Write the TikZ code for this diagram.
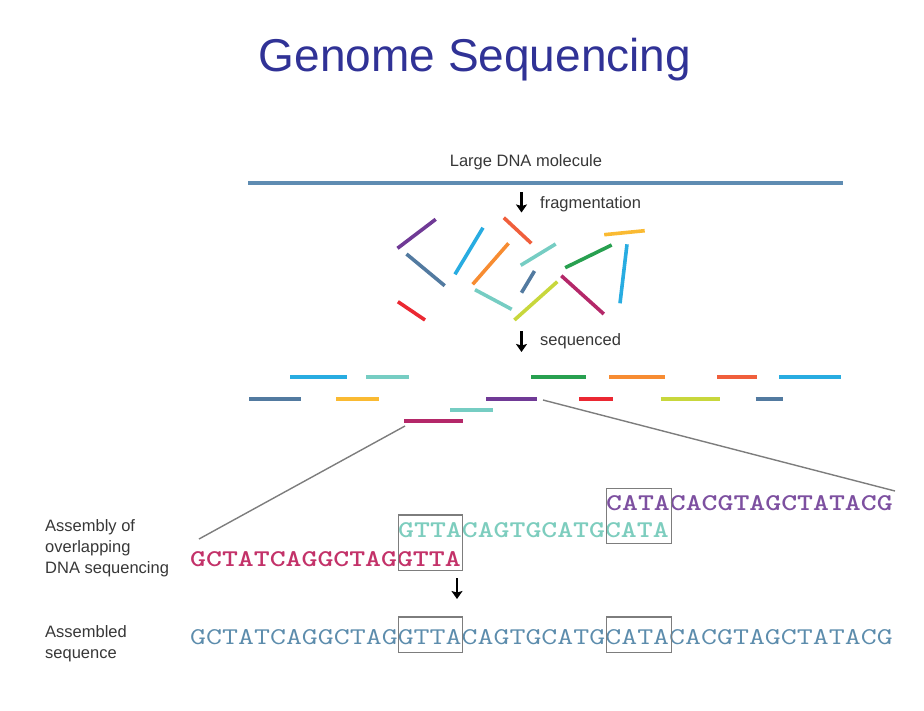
\documentclass[tikz,border=0pt]{standalone}
\usepackage{fontspec}
\usepackage{graphicx}
\setmainfont{Liberation Sans}
\usetikzlibrary{arrows.meta}
\definecolor{titleblue}{RGB}{48,50,150}
\definecolor{labelgray}{RGB}{55,55,55}
\definecolor{dnablue}{RGB}{95,140,178}
\definecolor{fpurple}{RGB}{112,58,150}
\definecolor{fsteel}{RGB}{82,122,160}
\definecolor{fcyan}{RGB}{40,172,225}
\definecolor{fredor}{RGB}{240,95,60}
\definecolor{forange}{RGB}{247,140,50}
\definecolor{fteal}{RGB}{118,205,195}
\definecolor{fgreen}{RGB}{40,160,80}
\definecolor{fyellow}{RGB}{250,186,50}
\definecolor{fygreen}{RGB}{200,215,60}
\definecolor{fmagenta}{RGB}{180,40,105}
\definecolor{fred}{RGB}{235,40,50}
\definecolor{seqred}{RGB}{195,50,105}
\definecolor{seqteal}{RGB}{125,205,190}
\definecolor{seqpurple}{RGB}{125,80,160}
\definecolor{seqblue}{RGB}{92,140,172}
\definecolor{boxgray}{RGB}{125,125,125}
% #1 = number of characters, #2 = text; pitch 16pt per character
\newcommand{\monoseq}[2]{\resizebox{\dimexpr #1\dimexpr 16pt\relax - 1.5pt\relax}{\height}{#2}}
\tikzset{
  lbl/.style={font=\fontsize{16.5}{20}\selectfont, text=labelgray, inner sep=0pt},
  frag/.style={line width=3.6pt},
  bigarrow/.style={line width=2.6pt, -{Stealth[length=8pt,width=11pt,inset=1.5pt]}},
  seqtxt/.style={font=\ttfamily\bfseries\fontsize{24}{28}\selectfont, inner sep=0pt, anchor=base west},
  asmtxt/.style={font=\ttfamily\fontsize{24}{28}\selectfont, inner sep=0pt, anchor=base west, text=seqblue},
  ovbox/.style={draw=boxgray, line width=1.4pt},
  zoomline/.style={draw=boxgray, line width=1.4pt}
}
\begin{document}
\begin{tikzpicture}[x=1pt,y=-1pt]
\useasboundingbox (0,0) rectangle (924,710);

% title
\node[font=\fontsize{46}{50}\selectfont, text=titleblue, inner sep=0pt, anchor=base] (title) at (475,71.5) {Genome Sequencing};

% large DNA molecule
\node[lbl, anchor=base] (dnalabel) at (526,166) {Large DNA molecule};
\coordinate (dnaL) at (248,183);
\coordinate (dnaR) at (843,183);
\draw[dnablue, line width=3.4pt] (dnaL) -- (dnaR);

% fragmentation arrow
\coordinate (a1s) at (521.5,192);
\coordinate (a1e) at (521.5,212.5);
\draw[bigarrow] (a1s) -- (a1e);
\node[lbl, anchor=base west] (fraglabel) at (540,208.5) {fragmentation};

% fragments
\draw[frag, fpurple] (397.5,248.3) -- (435.7,219.3);
\draw[frag, fsteel] (406.5,254) -- (444.7,285.7);
\draw[frag, fcyan] (455,274.3) -- (483,227.7);
\draw[frag, fredor] (503.8,217.7) -- (531.3,243.3);
\draw[frag, forange] (472.7,284.3) -- (508.5,243.3);
\draw[frag, fteal] (520.7,265.3) -- (555.7,244);
\draw[frag, fgreen] (565.2,267.7) -- (611.7,245);
\draw[frag, fyellow] (604.2,234.7) -- (644.7,230.7);
\draw[frag, fcyan] (627,244.3) -- (620,303.3);
\draw[frag, fsteel] (521.5,292.7) -- (534.5,271);
\draw[frag, fteal] (475,289.7) -- (511.7,309.3);
\draw[frag, fygreen] (514.4,320) -- (557.3,281.7);
\draw[frag, fmagenta] (561.3,275.7) -- (603.8,314);
\draw[frag, fred] (397.9,301.7) -- (425,320);

% sequenced arrow
\coordinate (a2s) at (521.5,331);
\coordinate (a2e) at (521.5,352);
\draw[bigarrow] (a2s) -- (a2e);
\node[lbl, anchor=base west] (seqlabel) at (540,345.5) {sequenced};

% sequenced reads
\draw[frag, fcyan] (290,377) -- (347,377);
\draw[frag, fteal] (366,377) -- (409,377);
\draw[frag, fgreen] (531,377) -- (586,377);
\draw[frag, forange] (609,377) -- (665,377);
\draw[frag, fredor] (717,377) -- (757,377);
\draw[frag, fcyan] (779,377) -- (841,377);
\draw[frag, fsteel] (249,399) -- (301,399);
\draw[frag, fyellow] (336,399) -- (379,399);
\draw[frag, fpurple] (486,399) -- (537,399);
\draw[frag, fred] (579,399) -- (613,399);
\draw[frag, fygreen] (660.5,399) -- (719.5,399);
\draw[frag, fsteel] (755.7,399) -- (783,399);
\draw[frag, fteal] (450,410) -- (493,410);
\draw[frag, fmagenta] (404,421) -- (463,421);

% zoom lines
\coordinate (zl1s) at (405,426);
\coordinate (zl1e) at (199,539);
\coordinate (zl2s) at (543,400);
\coordinate (zl2e) at (895,491);
\draw[zoomline] (zl1s) -- (zl1e);
\draw[zoomline] (zl2s) -- (zl2e);

% left labels
\node[lbl, anchor=base west] (asm1) at (45,531) {Assembly of};
\node[lbl, anchor=base west] (asm2) at (45,552) {overlapping};
\node[lbl, anchor=base west] (asm3) at (45,573) {DNA sequencing};
\node[lbl, anchor=base west] (asd1) at (45,637) {Assembled};
\node[lbl, anchor=base west] (asd2) at (45,658) {sequence};

% overlapping sequences
\node[seqtxt, text=seqred] (readA) at (190,566.5) {\monoseq{17}{GCTATCAGGCTAGGTTA}};
\node[seqtxt, text=seqteal] (readB) at (398,537.5) {\monoseq{17}{GTTACAGTGCATGCATA}};
\node[seqtxt, text=seqpurple] (readC) at (606,510.5) {\monoseq{18}{CATACACGTAGCTATACG}};

% overlap boxes
\draw[ovbox] (398.5,515) rectangle (462.5,570.5);
\draw[ovbox] (606.5,488.5) rectangle (671.5,543.5);

% assembly arrow
\coordinate (a3s) at (457,578);
\coordinate (a3e) at (457,599);
\draw[bigarrow] (a3s) -- (a3e);

% assembled sequence
\node[asmtxt] (assembled) at (190,644) {\monoseq{44}{GCTATCAGGCTAGGTTACAGTGCATGCATACACGTAGCTATACG}};
\draw[ovbox] (398.5,617) rectangle (462.5,652.5);
\draw[ovbox] (606.5,617) rectangle (671.5,652.5);
\end{tikzpicture}
\end{document}
